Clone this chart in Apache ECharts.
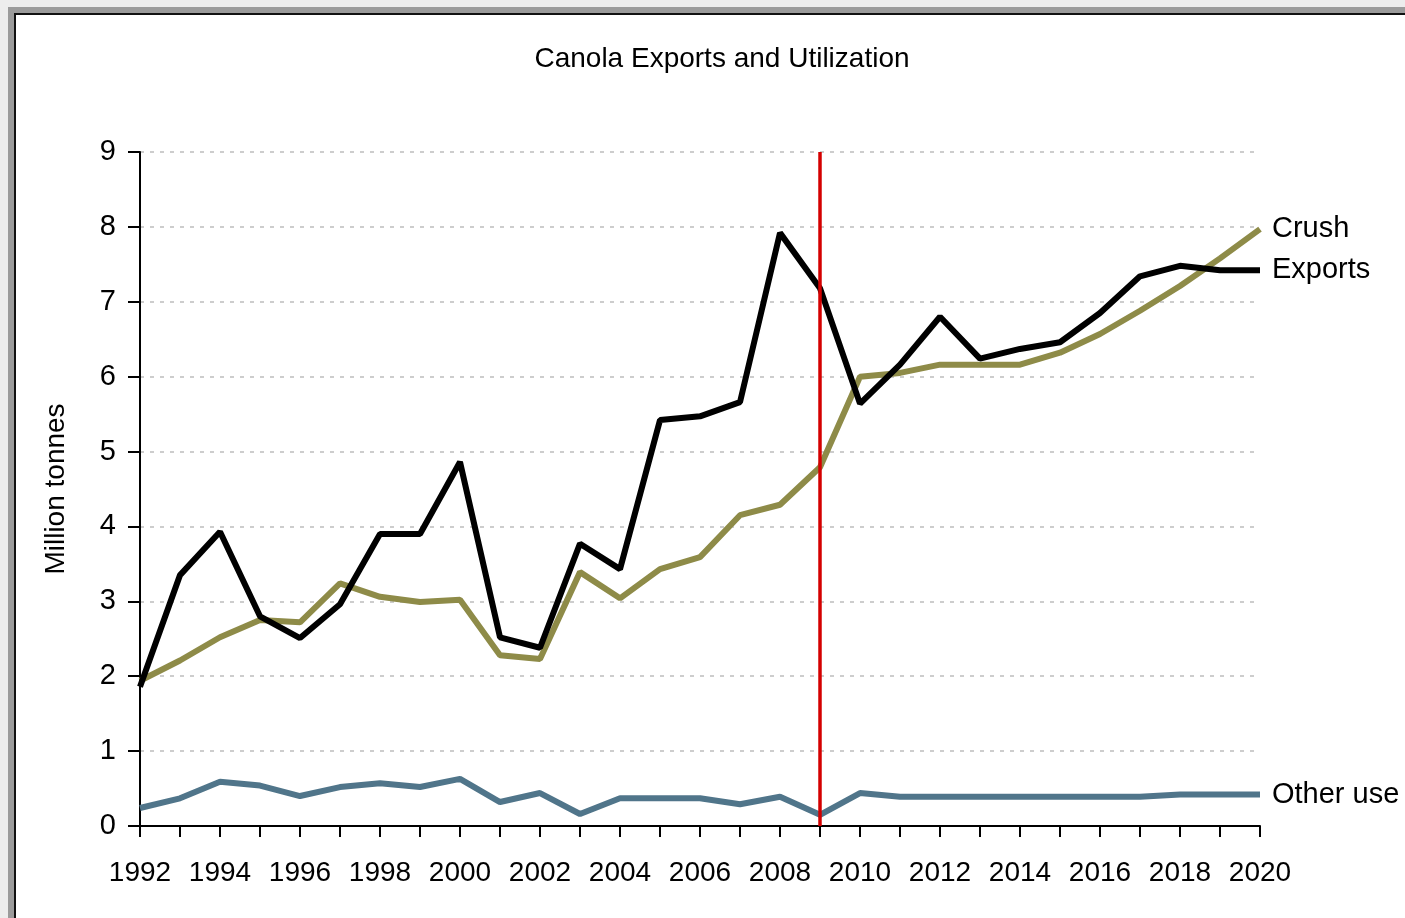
<!DOCTYPE html>
<html>
<head>
<meta charset="utf-8">
<title>Canola Exports and Utilization</title>
<script src="https://cdn.jsdelivr.net/npm/echarts@6/dist/echarts.min.js"></script>
<style>
    html, body { margin: 0; padding: 0; background: #ededed; overflow: hidden; }
    /* gray frame + black inner line, only top and left are visible in the picture */
    #frame {
        position: absolute; left: 8px; top: 7px; width: 1420px; height: 940px;
        border-left: 6px solid #9b9b9b; border-top: 6px solid #9b9b9b;
    }
    #frame .inner {
        position: absolute; left: 0; top: 0; right: 0; bottom: 0;
        border-left: 2px solid #111; border-top: 2px solid #111; background: #fff;
    }
    #main { position: absolute; left: 0; top: 0; width: 1405px; height: 918px; }
</style>
</head>
<body>
<div id="frame"><div class="inner"></div></div>
<div id="main"></div>
<script>
//年份
var years = ['1992', '1993', '1994', '1995', '1996', '1997', '1998', '1999', '2000', '2001',
    '2002', '2003', '2004', '2005', '2006', '2007', '2008', '2009', '2010', '2011',
    '2012', '2013', '2014', '2015', '2016', '2017', '2018', '2019', '2020'];

//出口 (million tonnes)
var exportsData = [1.86, 3.35, 3.93, 2.80, 2.51, 2.96, 3.90, 3.90, 4.86, 2.52,
    2.38, 3.77, 3.43, 5.42, 5.47, 5.66, 7.92, 7.18, 5.64, 6.16,
    6.80, 6.24, 6.37, 6.46, 6.85, 7.34, 7.48, 7.42, 7.42];

//压榨
var crushData = [1.94, 2.21, 2.52, 2.75, 2.72, 3.24, 3.06, 2.99, 3.02, 2.28,
    2.23, 3.39, 3.04, 3.43, 3.59, 4.15, 4.29, 4.79, 6.00, 6.05,
    6.16, 6.16, 6.16, 6.32, 6.57, 6.88, 7.21, 7.58, 7.97];

//其他用途
var otherData = [0.24, 0.37, 0.59, 0.54, 0.40, 0.52, 0.57, 0.52, 0.63, 0.32,
    0.44, 0.16, 0.37, 0.37, 0.37, 0.29, 0.39, 0.15, 0.44, 0.39,
    0.39, 0.39, 0.39, 0.39, 0.39, 0.39, 0.42, 0.42, 0.42];

var yTicks = [0, 1, 2, 3, 4, 5, 6, 7, 8, 9];
var markYear = '2009';//预测开始

var fontNarrow = "'Liberation Sans Narrow', 'Arial Narrow', 'Liberation Sans', sans-serif";

var myChart = echarts.init(document.getElementById('main'), null, { renderer: 'canvas' });

var option = {
    animation: false,
    textStyle: { fontFamily: fontNarrow },
    title: {
        text: 'Canola Exports and Utilization',
        left: 717,
        top: 40,
        textAlign: 'center',
        textStyle: { fontFamily: fontNarrow, fontSize: 28, fontWeight: 'normal', color: '#000' }
    },
    grid: { left: 140, right: 145, top: 152, bottom: 92 },
    xAxis: {
        type: 'category',
        boundaryGap: false,
        data: years,
        axisLine: { lineStyle: { color: '#000', width: 2 } },
        axisTick: { show: true, interval: 0, length: 11, lineStyle: { color: '#000', width: 2 } },
        axisLabel: { interval: 1, margin: 33, fontSize: 28, color: '#000', fontFamily: fontNarrow },
        splitLine: { show: false }
    },
    yAxis: {
        type: 'value',
        min: yTicks[0],
        max: yTicks[yTicks.length - 1],
        interval: 1,
        name: 'Million tonnes',
        nameLocation: 'middle',
        nameGap: 70,
        nameTextStyle: { fontSize: 28, color: '#000', fontFamily: fontNarrow },
        axisLine: { show: true, lineStyle: { color: '#000', width: 2 } },
        axisTick: { show: true, length: 12, lineStyle: { color: '#000', width: 2 } },
        axisLabel: { margin: 24, fontSize: 29, color: '#000', fontFamily: fontNarrow },
        splitLine: { show: true, lineStyle: { color: '#bdbdbd', width: 1.5, type: [4, 6] } }
    },
    series: [
        {
            name: 'Other use',
            type: 'line',
            data: otherData,
            symbol: 'none',
            lineStyle: { color: '#50758a', width: 6 },
            itemStyle: { color: '#50758a' },
            endLabel: { show: true, formatter: '{a}', color: '#000', fontSize: 29, distance: 12, fontFamily: fontNarrow }
        },
        {
            name: 'Crush',
            type: 'line',
            data: crushData,
            symbol: 'none',
            lineStyle: { color: '#8e8b48', width: 6 },
            itemStyle: { color: '#8e8b48' },
            endLabel: { show: true, formatter: '{a}', color: '#000', fontSize: 29, distance: 12, fontFamily: fontNarrow }
        },
        {
            name: 'Exports',
            type: 'line',
            data: exportsData,
            symbol: 'none',
            lineStyle: { color: '#000', width: 6 },
            itemStyle: { color: '#000' },
            endLabel: { show: true, formatter: '{a}', color: '#000', fontSize: 29, distance: 12, fontFamily: fontNarrow },
            markLine: {
                silent: true,
                symbol: ['none', 'none'],
                label: { show: false },
                lineStyle: { color: '#d40000', width: 3.5, type: 'solid' },
                data: [{ xAxis: markYear }]
            }
        }
    ]
};

myChart.setOption(option);
</script>
</body>
</html>
